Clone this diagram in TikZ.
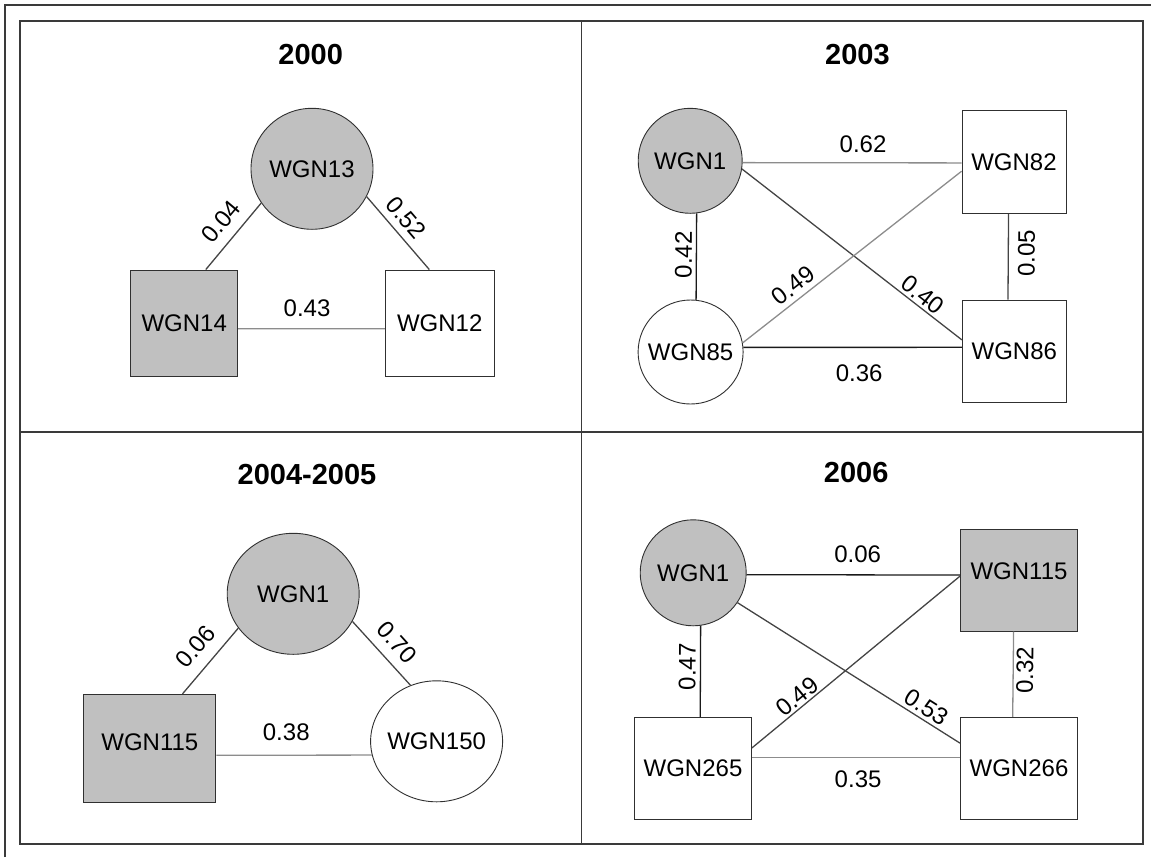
\documentclass[tikz,border=0pt]{standalone}
\usepackage{fontspec}
\setmainfont{Liberation Sans}
\usetikzlibrary{shapes.geometric}
\definecolor{grisnodo}{HTML}{C0C0C0}
\definecolor{bordenodo}{HTML}{303030}
\definecolor{gristexto}{HTML}{3A3A3A}
\definecolor{lineanegra}{HTML}{1A1A1A}
\definecolor{lineaoscura}{HTML}{444444}
\definecolor{lineagris}{HTML}{8C8C8C}

\begin{document}
\begin{tikzpicture}[x=1pt, y=-1pt,
    font=\fontsize{24}{28}\selectfont,
    caja/.style={draw=bordenodo, line width=0.9pt, fill=white, inner sep=0pt},
    cajagris/.style={caja, fill=grisnodo},
    disco/.style={caja, ellipse},
    discogris/.style={disco, fill=grisnodo},
    titulo/.style={font=\fontsize{29}{34}\selectfont\bfseries},
    peso/.style={inner sep=1pt, sloped},
    arista/.style={line width=1.3pt},
    fuerte/.style={arista, draw=lineanegra},
    media/.style={arista, draw=lineaoscura},
    debil/.style={arista, draw=lineagris},
    marco/.style={line width=1.5pt, draw=gristexto}
  ]
    \useasboundingbox (0,0) rectangle (1151,857);

    % marcos
    \draw[marco] (5,857) -- (5,5) -- (1151,5);
    \draw[marco] (20,21) rectangle (1143,844);
    \draw[marco] (581.6,21) -- (581.6,844);
    \draw[marco] (20,432) -- (1143,432);

    % 2000
    \node[titulo] (t2000) at (310.7,55) {2000};
    \node[discogris, minimum width=122pt, minimum height=121pt, label=center:WGN13] (n13) at (312,168.8) {};
    \node[cajagris, minimum width=107pt, minimum height=106pt] (n14) at (184.2,323) {WGN14};
    \node[caja, minimum width=109pt, minimum height=106pt] (n12) at (439.7,323) {WGN12};
    \draw[media] (n14.68) -- node[peso, above=9pt, pos=.54] {0.04} (n13.214);
    \draw[media] (n13.-27) -- node[peso, above=6pt, pos=.43] {0.52} (n12.101);
    \draw[debil] (n14.-6) -- node[peso, above=10.5pt, pos=.47] {0.43} (n12.186);

    % 2003
    \node[titulo] (t2003) at (857.4,55) {2003};
    \node[discogris, minimum width=104pt, minimum height=105pt, label=center:WGN1] (w1) at (690.2,160.8) {};
    \node[caja, minimum width=104pt, minimum height=103pt] (w82) at (1014,162) {WGN82};
    \node[disco, minimum width=105pt, minimum height=104pt, label=center:WGN85] (w85) at (690.6,352) {};
    \node[caja, minimum width=104pt, minimum height=102pt] (w86) at (1014.3,351) {WGN86};
    \draw[debil] (w1.-2) -- node[peso, above=8.5pt, pos=.55] {0.62} (w82.181);
    \draw[fuerte] (w85.84) -- node[peso, above=2.6pt, pos=.52] {0.42} (w1.-83);
    \draw[media] (w86.97) -- node[peso, below=8pt, pos=.54] {0.05} (w82.-96);
    \draw[fuerte] (w85.5) -- node[peso, below=15.5pt, pos=.53] {0.36} (w86.176);
    \draw[media] (w1.-9) -- node[peso, above=1.5pt, pos=.79] {0.40} (w86.168);
    \draw[debil] (w85.10) -- node[peso, above=4pt, pos=.27] {0.49} (w82.190);

    % 2004-2005
    \node[titulo] (t2004) at (307,475) {2004-2005};
    \node[discogris, minimum width=132pt, minimum height=121pt, label=center:WGN1] (u1) at (293.2,593.8) {};
    \node[cajagris, minimum width=132pt, minimum height=108pt, label={[yshift=6pt]center:WGN115}] (u115) at (149.8,748.3) {};
    \node[disco, minimum width=132pt, minimum height=121pt, label=center:WGN150] (u150) at (436.6,741.3) {};
    \draw[media] (u115.59) -- node[peso, above=10.5pt, pos=.52] {0.06} (u1.212);
    \draw[media] (u1.-25) -- node[peso, above=8.8pt, pos=.53] {0.70} (u150.115);
    \draw[debil] (u115.-6) -- node[peso, above=12.5pt, pos=.45] {0.38} (u150.192);

    % 2006
    \node[titulo] (t2006) at (856.2,473) {2006};
    \node[discogris, minimum width=106pt, minimum height=106pt, label=center:WGN1] (v1) at (693.2,572.8) {};
    \node[cajagris, minimum width=117pt, minimum height=102pt, label={[yshift=9pt]center:WGN115}] (v115) at (1019,580.2) {};
    \node[caja, minimum width=117pt, minimum height=102pt] (v265) at (693,768.2) {WGN265};
    \node[caja, minimum width=117pt, minimum height=102pt] (v266) at (1019,768.2) {WGN266};
    \draw[fuerte] (v1.-2) -- node[peso, above=10.5pt, pos=.52] {0.06} (v115.175);
    \draw[fuerte] (v265.82) -- node[peso, above=3pt, pos=.55] {0.47} (v1.-82);
    \draw[debil] (v266.97) -- node[peso, below=1.6pt, pos=.55] {0.32} (v115.-96);
    \draw[debil] (v265.10) -- node[peso, below=11.5pt, pos=.51] {0.35} (v266.170);
    \draw[media] (v1.-34) -- node[peso, above=2.6pt, pos=.82] {0.53} (v266.157);
    \draw[media] (v265.19) -- node[peso, above=0.5pt, pos=.25] {0.49} (v115.176);
  \end{tikzpicture}
\end{document}
